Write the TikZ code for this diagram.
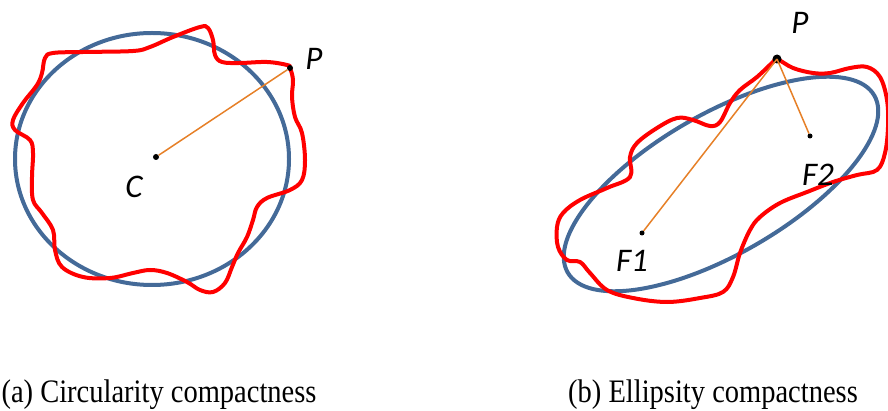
\documentclass[tikz,border=0pt]{standalone}
\usepackage{fontspec}
\setmainfont{Liberation Serif}
\newfontfamily\lblfont{Carlito}
\usetikzlibrary{positioning}
\definecolor{shapeblue}{RGB}{68, 106, 152}
\definecolor{shapered}{RGB}{255, 0, 0}
\definecolor{radorange}{RGB}{230, 128, 40}
\tikzset{
  dot/.style={circle, fill=black, inner sep=0pt, minimum size=#1},
  dot/.default=6pt,
  ptlabel/.style={font=\lblfont\itshape\fontsize{33}{36}\selectfont, inner sep=0pt},
  caption/.style={font=\fontsize{28.5}{32}\selectfont, inner sep=0pt, anchor=base, yscale=1.15},
  radius line/.style={radorange, line width=1.5pt},
}
\begin{document}
\begin{tikzpicture}[x=1pt, y=-1pt]
\useasboundingbox (0,0) rectangle (888,411);
% (a) circle and wavy outline
\draw[shapeblue, line width=4pt] (152,159) ellipse [x radius=137, y radius=126];
\draw[shapered, line width=4pt] plot[smooth cycle, tension=0.6] coordinates {
  (290,68) (293,80) (292,97) (295,117) (302,133) (305,160) (302,180) (290,190)
  (267,198) (257,207) (253,220) (247,237) (238,253) (232,267) (225,283) (213,292)
  (200,290) (187,282) (167,273) (150,270) (133,273) (110,278) (83,277) (62,267)
  (55,250) (53,230) (42,213) (33,200) (32,177) (33,153) (30,140) (15,130)
  (13,120) (23,103) (37,85) (42,73) (45,58) (53,53) (83,52) (133,51)
  (150,47) (173,37) (200,27) (208,28) (213,40) (215,55) (222,62) (240,63)
  (267,62) (287,65)};
\node[dot] (c) at (156,157) {};
\node[dot] (pa) at (290,68) {};
\draw[radius line] (c) -- (pa);
\node[ptlabel] (clbl) at (134,187) {C};
\node[ptlabel] (palbl) at (314,59) {P};
% (b) ellipse and wavy outline
\draw[shapeblue, line width=4pt, rotate around={30:(721,184)}] (721,184) ellipse [x radius=177, y radius=70];
\draw[shapered, line width=4pt] plot[smooth cycle, tension=0.6] coordinates {
  (777,59) (793,68) (813,73) (830,73) (850,68) (867,67) (880,77) (887,100)
  (888,127) (885,153) (877,170) (857,175) (833,182) (807,192) (780,203) (760,217)
  (750,230) (740,253) (733,277) (723,292) (700,298) (667,302) (633,298) (607,290)
  (590,273) (580,262) (567,260) (558,247) (557,227) (563,213) (580,200) (607,188)
  (630,177) (630,157) (637,143) (657,128) (677,118) (693,120) (710,126) (720,122)
  (730,103) (740,90) (757,77) (773,62)};
\node[dot=5pt] (f1) at (642,233) {};
\node[dot=5pt] (f2) at (810,136) {};
\node[dot=9pt] (pb) at (777,59) {};
\draw[radius line] (pb.center) -- (f1);
\draw[radius line] (pb.center) -- (f2);
\node[ptlabel] (pblbl) at (800,23) {P};
\node[ptlabel] (f1lbl) at (632,261) {F1};
\node[ptlabel] (f2lbl) at (818,175) {F2};
% captions
\node[caption] (capa) at (159,402) {(a) Circularity compactness};
\node[caption] (capb) at (713,402) {(b) Ellipsity compactness};
\end{tikzpicture}
\end{document}
